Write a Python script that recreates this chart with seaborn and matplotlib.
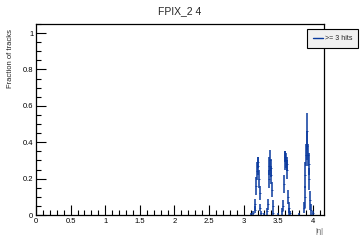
import matplotlib
matplotlib.use("Agg")
import matplotlib.pyplot as plt
import seaborn as sns
import pandas as pd
from matplotlib.ticker import MultipleLocator

# |eta| bin centres and fraction of tracks with >= 3 hits
eta = [3.10, 3.14,
       3.16, 3.17, 3.18, 3.19, 3.20, 3.21, 3.22, 3.23, 3.24, 3.25,
       3.30, 3.34, 3.35, 3.36, 3.37, 3.38, 3.39, 3.40, 3.41, 3.42, 3.43,
       3.50, 3.56, 3.57, 3.58, 3.59, 3.60, 3.61, 3.62, 3.63, 3.64, 3.65, 3.66, 3.67,
       3.80, 3.87, 3.88, 3.89, 3.90, 3.91, 3.92, 3.93, 3.94, 3.95, 3.96, 3.97, 4.00]
frac = [0.00, 0.01,
        0.03, 0.06, 0.16, 0.24, 0.27, 0.29, 0.20, 0.12, 0.04, 0.01,
        0.00, 0.02, 0.06, 0.20, 0.27, 0.30, 0.26, 0.22, 0.14, 0.05, 0.01,
        0.00, 0.02, 0.05, 0.17, 0.30, 0.32, 0.30, 0.28, 0.25, 0.10, 0.04, 0.02, 0.01,
        0.00, 0.04, 0.10, 0.22, 0.33, 0.38, 0.46, 0.33, 0.28, 0.20, 0.08, 0.03, 0.01]
err = [0.01, 0.01,
       0.02, 0.03, 0.05, 0.05, 0.05, 0.03, 0.05, 0.04, 0.02, 0.01,
       0.01, 0.02, 0.03, 0.05, 0.05, 0.06, 0.05, 0.05, 0.04, 0.03, 0.01,
       0.01, 0.02, 0.03, 0.05, 0.05, 0.03, 0.04, 0.04, 0.05, 0.04, 0.03, 0.02, 0.01,
       0.01, 0.03, 0.06, 0.07, 0.06, 0.08, 0.10, 0.06, 0.06, 0.06, 0.05, 0.03, 0.01]

df = pd.DataFrame({'eta': eta, 'frac': frac, 'err': err})

sns.set_style("white")
plt.rcParams['font.family'] = ['Liberation Sans', 'DejaVu Sans']

fig = plt.figure(figsize=(3.6, 2.4), dpi=100)
ax = fig.add_axes([0.1, 0.104, 0.8, 0.796])

color = '#0a3a9e'
ax.errorbar(df['eta'], df['frac'], yerr=df['err'], fmt='none',
            ecolor=color, elinewidth=1.1, capsize=0)
sns.scatterplot(x='eta', y='frac', data=df, marker='_', s=3,
                color=color, linewidth=0.6, ax=ax, legend=False)
ax.plot([], [], color=color, lw=1.0, label='>= 3 hits')

ax.set_xlim(0, 4.16)
ax.set_ylim(0, 1.05)
ax.xaxis.set_major_locator(MultipleLocator(0.5))
ax.xaxis.set_minor_locator(MultipleLocator(0.1))
ax.yaxis.set_major_locator(MultipleLocator(0.2))
ax.yaxis.set_minor_locator(MultipleLocator(0.05))
ax.set_xticks([0, 0.5, 1, 1.5, 2, 2.5, 3, 3.5, 4])
ax.set_xticklabels(['0', '0.5', '1', '1.5', '2', '2.5', '3', '3.5', '4'])
ax.set_yticks([0, 0.2, 0.4, 0.6, 0.8, 1])
ax.set_yticklabels(['0', '0.2', '0.4', '0.6', '0.8', '1'])
ax.tick_params(which='both', direction='in', bottom=True, left=True,
               top=False, right=False, labelsize=5.5, pad=2, width=0.8,
               colors='black')
ax.tick_params(which='major', length=7)
ax.tick_params(which='minor', length=3.5)
for s in ax.spines.values():
    s.set_linewidth(0.9)
    s.set_color('black')

ax.set_xlabel('|η|', fontsize=5.5, color='#666666')
ax.xaxis.set_label_coords(0.985, -0.07)
ax.set_ylabel('Fraction of tracks', fontsize=5.5)
ax.yaxis.set_label_coords(-0.075, 0.82)
fig.text(0.5, 0.955, 'FPIX_2 4', ha='center', va='center', fontsize=7.5)

leg = ax.legend(loc='lower left', bbox_to_anchor=(0.852, 0.799, 0.1425, 0.101),
                bbox_transform=fig.transFigure, mode='expand', fontsize=5,
                frameon=True, fancybox=False, shadow=False, borderaxespad=0,
                handlelength=1.5, handletextpad=0.3, borderpad=0.9)
leg.get_frame().set_edgecolor('black')
leg.get_frame().set_linewidth(0.8)
leg.get_frame().set_facecolor('#f0f0f0')
leg.get_frame().set_alpha(1)

plt.savefig('out.png', dpi=100)
